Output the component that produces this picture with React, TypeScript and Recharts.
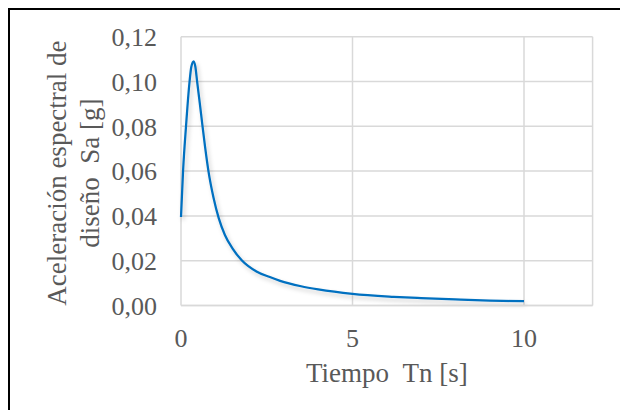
import { LineChart, Line, XAxis, YAxis, CartesianGrid, Label } from 'recharts'

const periodos = [0, 0.06, 0.146, 0.25, 0.3, 0.37, 0.42, 0.47, 0.55, 0.62, 0.7, 0.8, 0.95, 1.1, 1.28, 1.5, 1.77, 2.2, 2.59, 2.89, 3.5, 4, 5, 6.2, 7, 8, 9, 10]
const aceleraciones = [0.0395, 0.06, 0.08, 0.1, 0.1065, 0.109, 0.1065, 0.1, 0.09, 0.081, 0.071, 0.06, 0.048, 0.039, 0.0315, 0.0255, 0.0202, 0.0152, 0.0127, 0.011, 0.0086, 0.0072, 0.0052, 0.0039, 0.0033, 0.0027, 0.0022, 0.0019]

const ticksX = [0, 5, 10]
const ticksY = [0, 0.02, 0.04, 0.06, 0.08, 0.1, 0.12]

const tituloX = 'Tiempo\u00a0\u00a0Tn [s]'
const tituloY = ['Aceleración espectral de', 'diseño\u00a0\u00a0Sa [g]']

const data = periodos.map((t, i) => ({ t, sa: aceleraciones[i] }))

const FONT = '"Liberation Serif", "Times New Roman", serif'
const GRIS_TEXTO = '#595959'
const GRIS_GRID = '#d9d9d9'
const TAM_TICK = 26
const TAM_TITULO = 27

function EtiquetaY(props: any) {
  const vb = props.viewBox || { x: 0, y: 0, width: 0, height: 0 }
  const cy = vb.y + vb.height / 2 + 2
  return (
    <g>
      <text
        transform={`translate(56, ${cy}) rotate(-90)`}
        textAnchor="middle"
        fill={GRIS_TEXTO}
        fontFamily={FONT}
        fontSize={TAM_TITULO}
      >
        {tituloY[0]}
      </text>
      <text
        transform={`translate(89, ${cy}) rotate(-90)`}
        textAnchor="middle"
        fill={GRIS_TEXTO}
        fontFamily={FONT}
        fontSize={TAM_TITULO}
      >
        {tituloY[1]}
      </text>
    </g>
  )
}

export default function App() {
  const tickStyle = { fill: GRIS_TEXTO, fontFamily: FONT, fontSize: TAM_TICK }
  return (
    <div
      style={{
        width: 612,
        height: 402,
        boxSizing: 'border-box',
        borderTop: '2px solid #000',
        borderLeft: '2px solid #000',
        background: '#fff',
      }}
    >
      <LineChart
        width={610}
        height={400}
        data={data}
        margin={{ top: 26.7, right: 27.4, bottom: 24.5, left: 0 }}
      >
        <defs>
          <filter id="sombra" x="-10%" y="-10%" width="130%" height="130%">
            <feDropShadow dx="2" dy="3" stdDeviation="2" floodColor="#000" floodOpacity="0.2" />
          </filter>
        </defs>
        <CartesianGrid stroke={GRIS_GRID} strokeWidth={1.5} />
        <XAxis
          dataKey="t"
          type="number"
          domain={[0, 12]}
          ticks={ticksX}
          height={80}
          tickLine={false}
          tickSize={0}
          tickMargin={23}
          axisLine={{ stroke: GRIS_GRID, strokeWidth: 1.5 }}
          tick={tickStyle}
        >
          <Label
            value={tituloX}
            position="insideBottom"
            offset={4}
            fill={GRIS_TEXTO}
            fontFamily={FONT}
            fontSize={TAM_TITULO}
          />
        </XAxis>
        <YAxis
          type="number"
          domain={[0, 0.12]}
          ticks={ticksY}
          width={171}
          tickLine={false}
          tickSize={0}
          tickMargin={24}
          axisLine={false}
          tick={tickStyle}
          tickFormatter={(v: number) => v.toFixed(2).replace('.', ',')}
          label={<EtiquetaY />}
        />
        <Line
          type="monotone"
          dataKey="sa"
          stroke="#0070c0"
          strokeWidth={2.25}
          dot={false}
          activeDot={false}
          isAnimationActive={false}
          filter="url(#sombra)"
        />
      </LineChart>
    </div>
  )
}
